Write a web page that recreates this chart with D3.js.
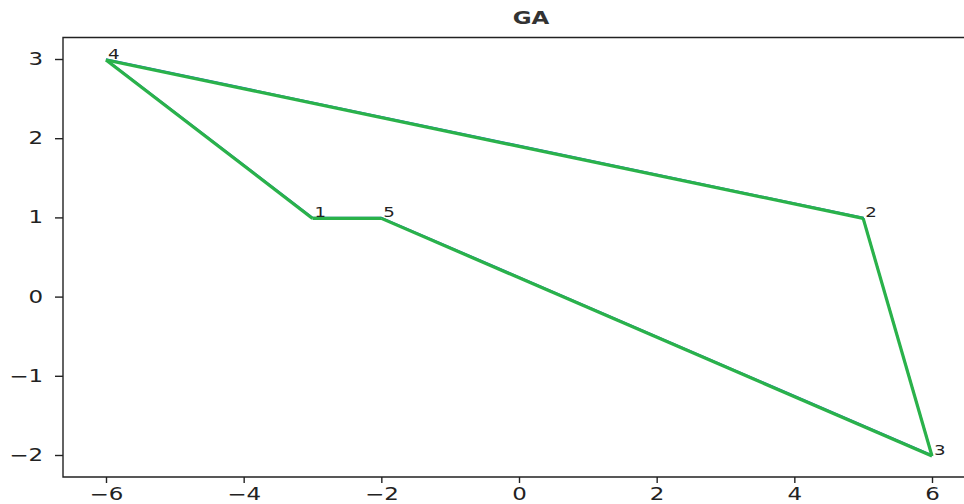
<!DOCTYPE html>
<html lang="en">
  <head>
    <meta charset="UTF-8" />
    <title>GA</title>
    <script src="https://cdn.jsdelivr.net/npm/d3@7/dist/d3.min.js"></script>
    <style>
      html,
      body {
        margin: 0;
        padding: 0;
        background: #fff;
      }
      svg {
        display: block;
        font-family: 'DejaVu Sans', sans-serif;
      }
    </style>
  </head>
  <body>
    <svg width="964" height="504"></svg>
    <script>
      // city labels and coordinates
      const cityNames = ['1', '2', '3', '4', '5'];
      const cityX = [-3, 5, 6, -6, -2];
      const cityY = [1, 1, -2, 3, 1];
      // visiting order (indices into the arrays above)
      const tour = [3, 0, 4, 2, 1, 3];

      const xTicks = [-6, -4, -2, 0, 2, 4, 6];
      const yTicks = [-2, -1, 0, 1, 2, 3];

      const svg = d3.select('svg');

      // the original picture is stretched sideways a little
      const stretch = 1.35;

      const axLeft = 63,
        axTop = 37.5,
        axBottom = 477;

      const XScale = d3.scaleLinear().domain([-6, 6]).range([106, 932]);
      const YScale = d3.scaleLinear().domain([3, -2]).range([59, 455]);

      const pts = tour.map(function(i) {
        return [XScale(cityX[i]), YScale(cityY[i])];
      });

      // thin blue route underneath
      svg
        .append('path')
        .attr('d', d3.line()(pts))
        .attr('fill', 'none')
        .attr('stroke', '#1f77b4')
        .attr('stroke-width', 1.5);

      // green segments on top, one by one
      svg
        .selectAll('line.seg')
        .data(d3.pairs(pts))
        .enter()
        .append('line')
        .attr('class', 'seg')
        .attr('x1', d => d[0][0])
        .attr('y1', d => d[0][1] + 1)
        .attr('x2', d => d[1][0])
        .attr('y2', d => d[1][1] + 1)
        .attr('stroke', '#2ab24a')
        .attr('stroke-width', 3.2);

      svg
        .selectAll('text.city')
        .data(cityNames)
        .enter()
        .append('text')
        .attr('class', 'city')
        .attr(
          'transform',
          (d, i) =>
            `translate(${XScale(cityX[i]) + 2},${YScale(cityY[i])}) scale(${stretch},1)`
        )
        .attr('font-size', 13.5)
        .attr('fill', '#222')
        .text(d => d);

      // spines
      svg
        .append('path')
        .attr('d', `M964,${axTop}H${axLeft}V${axBottom}H964`)
        .attr('fill', 'none')
        .attr('stroke', '#222')
        .attr('stroke-width', 1.4);

      const XAxis = d3
        .axisBottom(XScale)
        .tickValues(xTicks)
        .tickSize(6)
        .tickPadding(5)
        .tickFormat(d => String(d).replace('-', '\u2212'));
      const YAxis = d3
        .axisLeft(YScale)
        .tickValues(yTicks)
        .tickSize(8)
        .tickPadding(12)
        .tickFormat(d => String(d).replace('-', '\u2212'));

      svg
        .append('g')
        .attr('class', 'xaxis')
        .attr('transform', `translate(0,${axBottom})`)
        .call(XAxis);
      svg
        .append('g')
        .attr('class', 'yaxis')
        .attr('transform', `translate(${axLeft},0)`)
        .call(YAxis);

      svg.selectAll('path.domain').remove();
      svg
        .selectAll('.tick line')
        .attr('stroke', '#222')
        .attr('stroke-width', 1.4);
      svg
        .selectAll('.tick text')
        .attr('font-family', 'DejaVu Sans, sans-serif')
        .attr('font-size', 17)
        .attr('fill', '#222')
        .attr('transform', `scale(${stretch},1)`);
      svg.selectAll('.yaxis .tick text').attr('x', -20 / stretch);

      svg
        .append('text')
        .attr('transform', `translate(531,24) scale(${stretch},1)`)
        .attr('text-anchor', 'middle')
        .attr('font-size', 17)
        .attr('font-weight', 'bold')
        .attr('fill', '#333')
        .text('GA');
    </script>
  </body>
</html>
